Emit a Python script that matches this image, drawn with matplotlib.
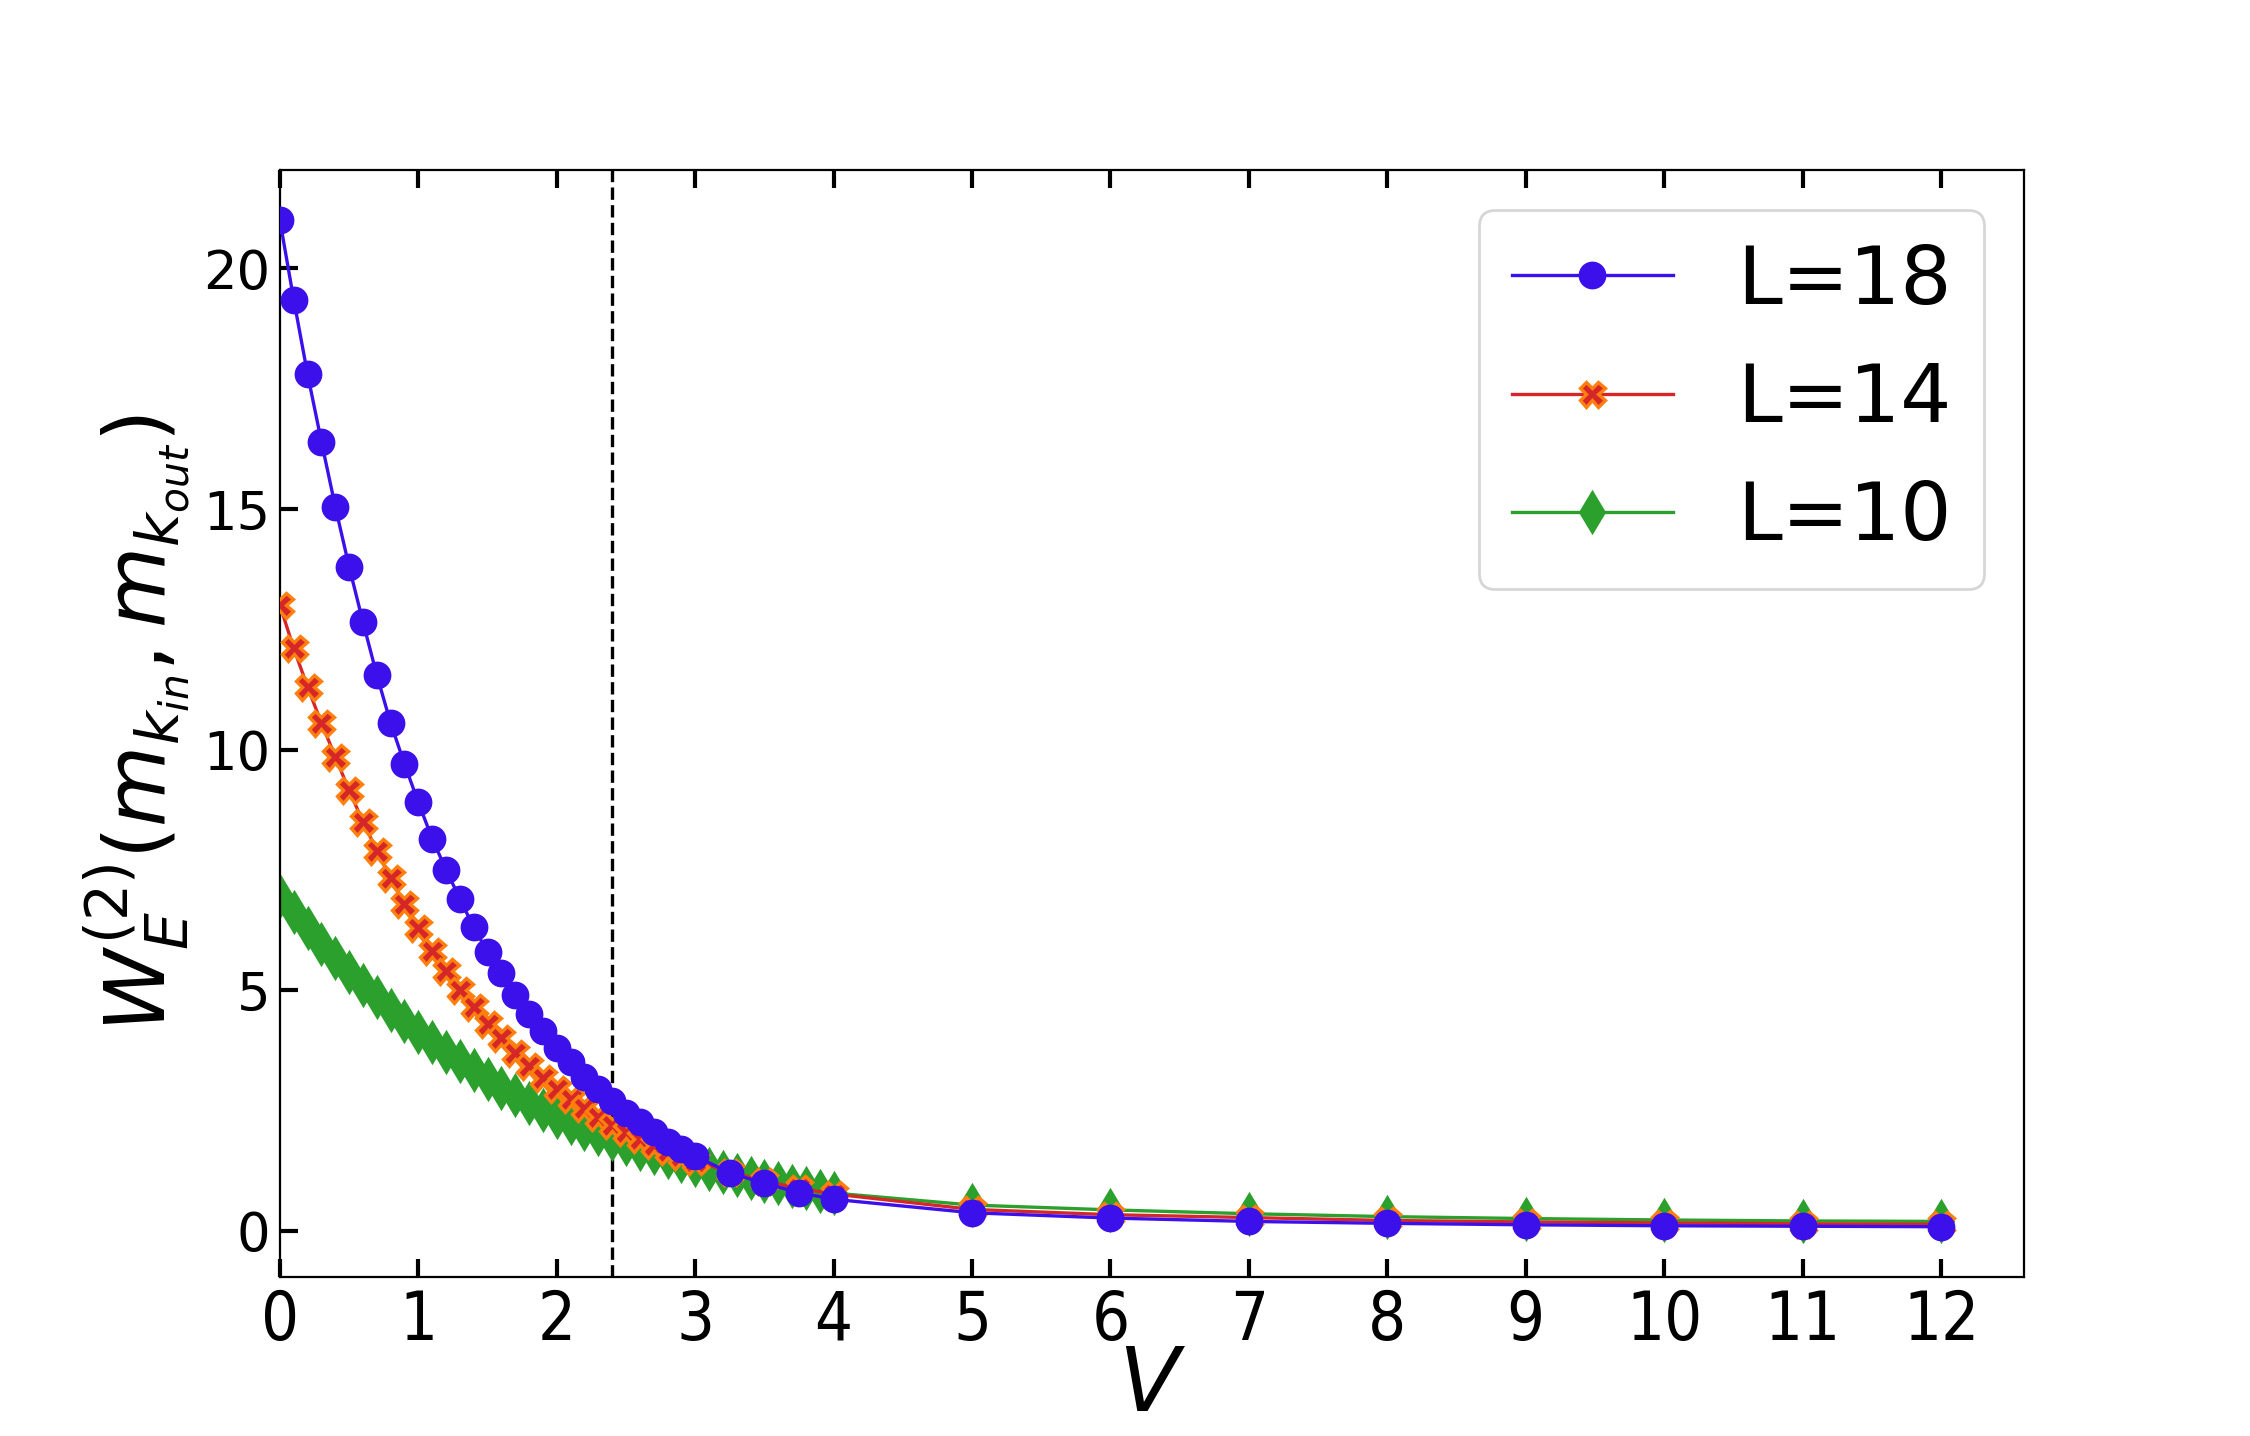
import numpy as np
import matplotlib
matplotlib.use("Agg")
import matplotlib.pyplot as plt

# V grids
v_fine = [round(0.1 * i, 1) for i in range(31)]            # 0.0 .. 3.0
v_mid = [3.25, 3.5, 3.75, 4.0]
v_fine_long = [round(0.1 * i, 1) for i in range(41)]        # 0.0 .. 4.0
v_tail = [5, 6, 7, 8, 9, 10, 11, 12]

v_18 = v_fine + v_mid + v_tail
w_18 = [21.0, 19.35, 17.8, 16.4, 15.05, 13.8, 12.65, 11.55, 10.55, 9.7,
        8.9, 8.15, 7.5, 6.9, 6.3, 5.8, 5.35, 4.9, 4.5, 4.15,
        3.8, 3.5, 3.2, 2.95, 2.7, 2.45, 2.25, 2.05, 1.85, 1.7,
        1.55, 1.2, 0.98, 0.79, 0.65,
        0.37, 0.26, 0.19, 0.15, 0.12, 0.10, 0.09, 0.08]

v_14 = v_fine + v_mid + v_tail
w_14 = [13.0, 12.1, 11.3, 10.55, 9.85, 9.15, 8.5, 7.9, 7.33, 6.78,
        6.28, 5.81, 5.39, 5.0, 4.65, 4.3, 4.0, 3.7, 3.42, 3.17,
        2.94, 2.73, 2.54, 2.36, 2.2, 2.05, 1.91, 1.78, 1.66, 1.55,
        1.45, 1.22, 1.03, 0.88, 0.76,
        0.44, 0.33, 0.27, 0.21, 0.18, 0.16, 0.14, 0.13]

v_10 = v_fine_long + v_tail
w_10 = [6.95, 6.62, 6.29, 5.96, 5.67, 5.38, 5.1, 4.86, 4.59, 4.36,
        4.13, 3.92, 3.72, 3.52, 3.33, 3.15, 2.97, 2.81, 2.65, 2.5,
        2.36, 2.23, 2.11, 2.0, 1.9, 1.8, 1.7, 1.61, 1.52, 1.44,
        1.36, 1.29, 1.22, 1.15, 1.09, 1.03, 0.98, 0.93, 0.88, 0.83,
        0.78,
        0.53, 0.43, 0.35, 0.29, 0.25, 0.22, 0.20, 0.19]

v_cross = 2.4
xticks = list(range(13))
yticks = [0, 5, 10, 15, 20]

fig = plt.figure(figsize=(11.25, 7.18), dpi=200)
ax = fig.add_axes([0.1244, 0.1107, 0.7752, 0.7709])

ax.plot(v_10, w_10, '-', marker='d', color='#2ca02c', lw=1.2, ms=10,
        label='L=10', zorder=2)
ax.plot(v_14, w_14, '-', marker='X', color='#d62728', mfc='#d62728',
        mec='#ff7f0e', mew=1.2, lw=1.2, ms=9, label='L=14', zorder=3)
ax.plot(v_18, w_18, '-', marker='o', color='#3c10eb', lw=1.2, ms=9,
        label='L=18', zorder=4)
ax.axvline(v_cross, color='black', ls='--', lw=1.2, zorder=1)

ax.set_xlim(left=0)
ax.set_xticks(xticks)
ax.set_yticks(yticks)
ax.tick_params(direction='in', length=6.5, width=1.5, top=True, right=False)
ax.tick_params(axis='y', labelsize=19)
ax.tick_params(axis='x', labelsize=24, pad=4)
for lab in ax.get_xticklabels():
    lab.set_fontstretch('condensed')

ax.set_xlabel('$V$', fontsize=32, labelpad=-4)
ax.set_ylabel(r'$W_E^{(2)}(m_{k_{in}}, m_{k_{out}})$', fontsize=30, labelpad=4)

handles, labels = ax.get_legend_handles_labels()
order = [2, 1, 0]
ax.legend([handles[i] for i in order], [labels[i] for i in order],
          loc='upper right', fontsize=29)

fig.savefig('out.png', dpi=200)
